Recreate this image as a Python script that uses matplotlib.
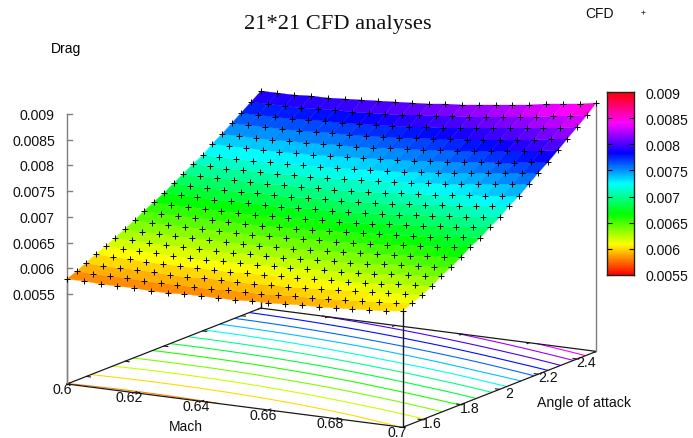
import colorsys
import numpy as np
import matplotlib
matplotlib.use("Agg")
import matplotlib.pyplot as plt
from matplotlib.colors import ListedColormap, BoundaryNorm
from matplotlib.transforms import Affine2D

plt.rcParams['font.family'] = ['Liberation Sans', 'DejaVu Sans']

# ---- data ----
mach = [0.6 + 0.005 * i for i in range(21)]
aoa = [1.5 + 0.05 * j for j in range(21)]
mach_ticks = [0.6, 0.62, 0.64, 0.66, 0.68, 0.7]
mach_labels = ['0.6', '0.62', '0.64', '0.66', '0.68', '0.7']
aoa_ticks = [1.6, 1.8, 2.0, 2.2, 2.4]
aoa_labels = ['1.6', '1.8', '2', '2.2', '2.4']
z_ticks = [0.0055, 0.006, 0.0065, 0.007, 0.0075, 0.008, 0.0085, 0.009]
z_labels = ['0.0055', '0.006', '0.0065', '0.007', '0.0075', '0.008', '0.0085', '0.009']
contour_levels = [0.0058, 0.006, 0.0062, 0.0064, 0.0066, 0.0068, 0.007, 0.0072,
                  0.0074, 0.0076, 0.0078, 0.008, 0.0082, 0.0084]
# drag in units of 1e-6: one row per angle of attack, one column per Mach number
drag_e6 = [
 [5792,5786,5781,5778,5777,5778,5781,5785,5791,5799,5809,5821,5834,5849,5866,5885,5906,5928,5952,5978,6006],
 [5868,5861,5857,5854,5853,5854,5856,5861,5867,5875,5886,5897,5911,5927,5944,5963,5984,6007,6032,6059,6087],
 [5955,5948,5944,5941,5940,5941,5944,5949,5955,5964,5974,5986,6000,6016,6034,6054,6076,6099,6125,6152,6181],
 [6050,6043,6039,6036,6035,6036,6039,6044,6051,6059,6070,6083,6097,6113,6132,6152,6174,6198,6224,6252,6282],
 [6132,6126,6123,6121,6121,6123,6127,6133,6141,6151,6163,6177,6193,6211,6230,6252,6276,6301,6329,6359,6390],
 [6225,6220,6216,6215,6215,6218,6223,6229,6238,6248,6261,6276,6292,6311,6331,6354,6379,6405,6434,6464,6497],
 [6315,6310,6308,6308,6309,6313,6318,6326,6336,6348,6362,6377,6395,6415,6437,6461,6487,6515,6546,6578,6612],
 [6416,6412,6410,6411,6413,6417,6424,6432,6443,6456,6471,6487,6506,6527,6551,6576,6603,6632,6664,6697,6733],
 [6517,6513,6512,6512,6515,6520,6527,6536,6547,6560,6576,6593,6613,6634,6658,6684,6712,6743,6775,6809,6846],
 [6618,6615,6615,6616,6620,6626,6634,6644,6657,6671,6688,6707,6728,6751,6777,6804,6834,6866,6900,6936,6974],
 [6725,6723,6723,6725,6730,6736,6745,6756,6769,6785,6803,6822,6844,6869,6895,6924,6955,6988,7023,7060,7100],
 [6840,6838,6839,6842,6847,6855,6864,6876,6890,6906,6925,6946,6969,6994,7022,7052,7084,7118,7154,7193,7234],
 [6947,6946,6948,6952,6958,6967,6977,6990,7006,7023,7043,7065,7090,7116,7145,7177,7210,7246,7284,7324,7367],
 [7061,7062,7065,7071,7079,7089,7101,7116,7133,7153,7175,7199,7225,7254,7285,7318,7354,7392,7432,7475,7520],
 [7174,7176,7180,7187,7196,7207,7221,7237,7255,7276,7299,7325,7352,7383,7415,7450,7487,7527,7569,7613,7660],
 [7302,7304,7309,7316,7325,7337,7351,7367,7386,7407,7431,7457,7486,7517,7550,7586,7624,7664,7707,7752,7800],
 [7429,7432,7438,7446,7456,7469,7484,7502,7522,7544,7570,7597,7627,7659,7694,7731,7771,7813,7858,7905,7954],
 [7563,7566,7572,7580,7591,7604,7620,7638,7659,7682,7708,7736,7766,7799,7835,7873,7913,7956,8002,8050,8100],
 [7689,7694,7701,7710,7722,7737,7754,7774,7796,7821,7848,7878,7910,7945,7982,8022,8064,8109,8157,8207,8259],
 [7824,7829,7837,7848,7861,7877,7895,7916,7939,7965,7994,8025,8058,8094,8133,8174,8218,8264,8313,8365,8419],
 [7964,7970,7979,7991,8005,8022,8041,8063,8087,8114,8144,8176,8211,8249,8289,8332,8377,8425,8475,8528,8584],
]

# ---- projection: (Mach, AoA, drag) -> pixel position ----
M0, A0, Z0 = 0.6, 1.5, 0.00375
OX, OY = 67.0, 385.0
MX, MY = 3357.0, 433.0      # pixels per unit Mach
AX, AY = 193.7, -75.9       # pixels per unit AoA
ZY = -51430.0               # pixels per unit drag


def proj(m, a, z=Z0):
    m, a, z = np.asarray(m), np.asarray(a), np.asarray(z)
    return (OX + (m - M0) * MX + (a - A0) * AX,
            OY + (m - M0) * MY + (a - A0) * AY + (z - Z0) * ZY)


fig = plt.figure(figsize=(6.93, 4.39), dpi=100)
ax = fig.add_axes([0, 0, 1, 1])
ax.set_xlim(0, 693)
ax.set_ylim(439, 0)
ax.axis('off')

cmap_fine = ListedColormap([colorsys.hsv_to_rgb((i + 0.5) / 256, 1, 1) for i in range(256)])
fine = np.linspace(0.0055, 0.009, 257)
norm_fine = BoundaryNorm(fine, 256)

Mg, Ag = np.meshgrid(mach, aoa)
Z = np.array(drag_e6) * 1e-6
Xp, Yp = proj(Mg, Ag, Z)

GREY = '#7f7f7f'
AXC = '#1a1a1a'
TXT = '#111111'
FS = 10.2

# base frame
mlo, mhi, alo, ahi = mach[0], mach[-1], aoa[0], aoa[-1]
corners = [(mlo, alo), (mhi, alo), (mhi, ahi), (mlo, ahi), (mlo, alo)]
px, py = proj([c[0] for c in corners], [c[1] for c in corners])
ax.plot(px, py, color=AXC, lw=0.9, zorder=2, solid_joinstyle='miter')

# contours on the base
T = Affine2D.from_values(MX, MY, AX, AY,
                         OX - M0 * MX - A0 * AX,
                         OY - M0 * MY - A0 * AY)
ax.contour(Mg, Ag, Z, levels=contour_levels, cmap=cmap_fine, norm=norm_fine,
           linewidths=0.8, linestyles='solid', transform=T + ax.transData, zorder=1.5)

# ticks on base edges
for m in mach_ticks:
    for a0, a1 in ((alo, alo + 0.012), (ahi, ahi - 0.012)):
        tx, ty = proj([m, m], [a0, a1])
        ax.plot(tx, ty, color=AXC, lw=0.8, zorder=2)
for a in aoa_ticks:
    for m0, m1 in ((mlo, mlo + 0.0012), (mhi, mhi - 0.0012)):
        tx, ty = proj([m0, m1], [a, a])
        ax.plot(tx, ty, color=AXC, lw=0.8, zorder=2)

# vertical lines
for m, a, col in ((mlo, alo, GREY), (mhi, ahi, GREY), (mhi, alo, AXC), (mlo, ahi, AXC)):
    zc = Z[aoa.index(a), mach.index(m)]
    vx, vy = proj([m, m], [a, a], [Z0, zc])
    ax.plot(vx, vy, color=col, lw=1.0, zorder=2.2)

# z axis
zx, zy = proj([mlo, mlo], [alo, alo], [Z0, z_ticks[-1]])
ax.plot(zx, zy, color=GREY, lw=1.0, zorder=2.2)
for v, lab in zip(z_ticks, z_labels):
    tx, ty = proj(mlo, alo, v)
    ax.plot([tx, tx + 5], [ty, ty], color=GREY, lw=1.0, zorder=2.2)
    ax.text(tx - 12, ty + 1, lab, ha='right', va='center', fontsize=FS, color=TXT)

# surface: one flat colour per cell, the mean of its four corners
cells = (Z[:-1, :-1] + Z[1:, :-1] + Z[:-1, 1:] + Z[1:, 1:]) / 4
ax.pcolormesh(Xp, Yp, cells, shading='flat', cmap=cmap_fine, norm=norm_fine,
              edgecolors='face', linewidth=0.25, antialiased=True, zorder=3)
ax.plot(Xp.ravel(), Yp.ravel(), ls='none', marker='+', ms=3.7, mew=0.7, color='black',
        zorder=4, clip_on=False)

# tick labels on the base
for m, lab in zip(mach_ticks, mach_labels):
    tx, ty = proj(m, alo)
    ax.text(tx - 5, ty + 4.6, lab, ha='center', va='center', fontsize=FS, color=TXT)
for a, lab in zip(aoa_ticks, aoa_labels):
    tx, ty = proj(mhi, a)
    ax.text(tx + 9.4, ty + 3.2, lab, ha='center', va='center', fontsize=FS, color=TXT)

ax.text(185.5, 427, 'Mach', ha='center', va='center', fontsize=10, color=TXT)
ax.text(584, 403, 'Angle of attack', ha='center', va='center', fontsize=10.2, color=TXT)
ax.text(66, 49, 'Drag', ha='center', va='center', fontsize=10, color='black')
ax.text(338, 24, '21*21 CFD analyses', ha='center', va='center', fontsize=16.2,
        family=['Liberation Serif', 'DejaVu Serif'], color=TXT)
ax.text(599, 14, 'CFD', ha='center', va='center', fontsize=10, color=TXT)
ax.plot([642.7], [13], ls='none', marker='+', ms=3.2, mew=0.6, color='#333333')

# colour box
cax = fig.add_axes([607.3 / 693, 1 - 275.7 / 439, 26.7 / 693, 182.4 / 439])
cax.pcolormesh([0, 1], fine, np.array([(fine[:-1] + fine[1:]) / 2]).T, cmap=cmap_fine, norm=norm_fine)
cax.set_xticks([])
cax.set_yticks(z_ticks)
cax.set_yticklabels(z_labels, fontsize=FS, color=TXT)
cax.yaxis.tick_right()
cax.tick_params(axis='y', direction='in', length=3.5, width=0.8, left=True, right=True, pad=8.5)
for s in cax.spines.values():
    s.set_linewidth(1.0)
    s.set_color('#222222')

fig.savefig('out.png', dpi=100)
